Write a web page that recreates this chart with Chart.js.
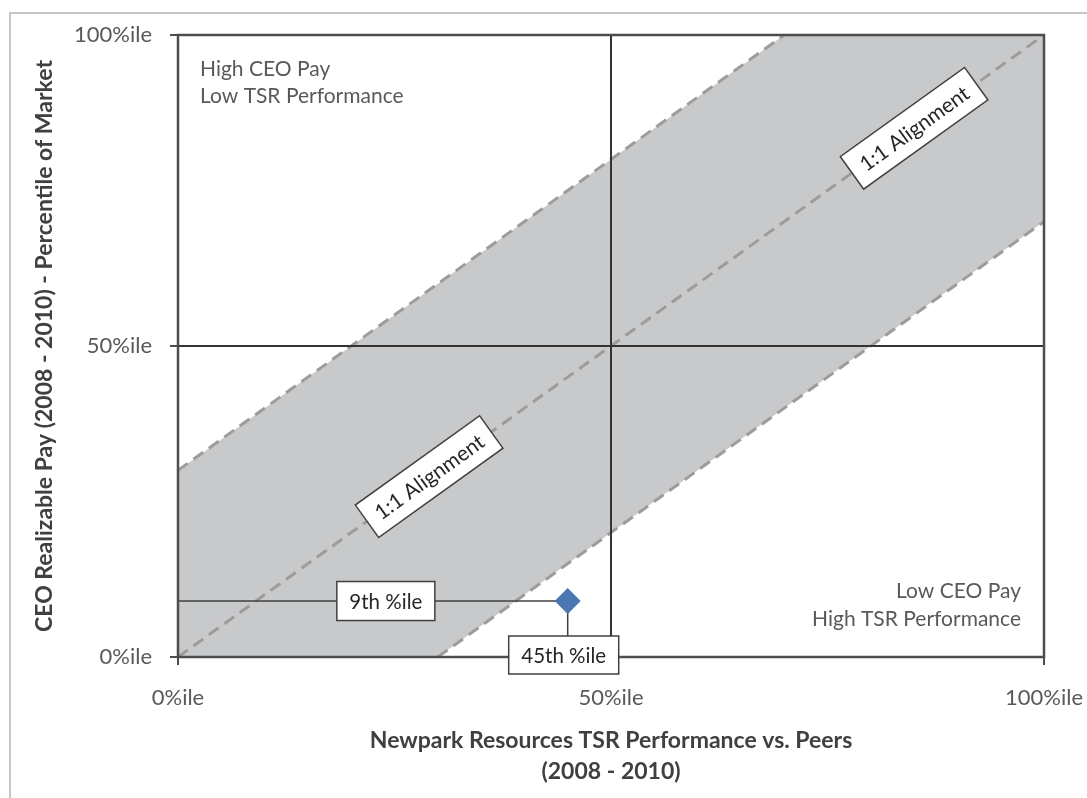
<!DOCTYPE html>
<html>
<head>
<meta charset="utf-8">
<title>CEO Pay vs TSR</title>
<script src="https://cdn.jsdelivr.net/npm/chart.js@4.4.1/dist/chart.umd.min.js"></script>
<style>
  html, body { margin: 0; padding: 0; background: #fff; overflow: hidden; }
  #frame { position: absolute; left: 9px; top: 12px; width: 1100px; height: 800px;
           border-left: 2px solid #c6c6c6; border-top: 2px solid #c6c6c6; }
  #chart { position: absolute; left: 0; top: 0; }
</style>
</head>
<body>
<div id="frame"></div>
<canvas id="chart" width="1087" height="798"></canvas>
<script>
// percentile axes, both 0..100
var tickValues = [0, 50, 100];
var tickSuffix = '%ile';

// shaded alignment band (+/- 30 percentile points around 1:1)
var bandTopX = [0, 70, 100];
var bandTopY = [30, 100, 100];
var bandBottomX = [0, 30, 100];
var bandBottomY = [0, 0, 70];

// dashed edges of the band and the 1:1 line
var upperEdgeX = [0, 70];
var upperEdgeY = [30, 100];
var lowerEdgeX = [30, 100];
var lowerEdgeY = [0, 70];
var diagonalX = [0, 100];
var diagonalY = [0, 100];

// median split lines
var medianVX = [50, 50];
var medianVY = [0, 100];
var medianHX = [0, 100];
var medianHY = [50, 50];

// company position
var tsrPercentile = 45;
var payPercentile = 9;

// where the "1:1 Alignment" tags sit on the diagonal
var alignTagAt = [29, 85];
var alignTagText = '1:1 Alignment';

var topLeftText = ['High CEO Pay', 'Low TSR Performance'];
var bottomRightText = ['Low CEO Pay', 'High TSR Performance'];

function pts(xs, ys) {
  return xs.map(function (x, i) { return { x: x, y: ys[i] }; });
}

function tag(ctx, cx, cy, w, h, text) {
  ctx.fillStyle = '#ffffff';
  ctx.fillRect(cx - w / 2, cy - h / 2, w, h);
  ctx.strokeStyle = '#404040';
  ctx.lineWidth = 1.5;
  ctx.strokeRect(cx - w / 2, cy - h / 2, w, h);
  ctx.fillStyle = '#262626';
  ctx.textAlign = 'center';
  ctx.textBaseline = 'middle';
  ctx.fillText(text, cx, cy + 1);
}

var overlay = {
  id: 'overlay',
  afterDatasetsDraw: function (chart) {
    var ctx = chart.ctx, a = chart.chartArea;
    var xs = chart.scales.x, ys = chart.scales.y;
    ctx.save();

    // plot frame
    ctx.strokeStyle = '#4d4d4d';
    ctx.lineWidth = 2.5;
    ctx.strokeRect(a.left, a.top, a.right - a.left, a.bottom - a.top);

    // quadrant captions
    ctx.fillStyle = '#595959';
    ctx.font = '21px Lato';
    ctx.textBaseline = 'alphabetic';
    ctx.textAlign = 'left';
    ctx.fillText(topLeftText[0], a.left + 22, a.top + 41);
    ctx.fillText(topLeftText[1], a.left + 22, a.top + 68);
    ctx.textAlign = 'right';
    ctx.fillText(bottomRightText[0], a.right - 23, a.bottom - 59);
    ctx.fillText(bottomRightText[1], a.right - 23, a.bottom - 31);

    // rotated 1:1 tags
    var ang = Math.atan2(ys.getPixelForValue(100) - ys.getPixelForValue(0),
                         xs.getPixelForValue(100) - xs.getPixelForValue(0));
    ctx.font = '21px Lato';
    alignTagAt.forEach(function (v) {
      ctx.save();
      ctx.translate(xs.getPixelForValue(v), ys.getPixelForValue(v));
      ctx.rotate(ang);
      tag(ctx, 0, 0, 153, 40, alignTagText);
      ctx.restore();
    });

    // value call-outs
    ctx.font = '20.5px Lato';
    tag(ctx, xs.getPixelForValue(24), ys.getPixelForValue(payPercentile), 98, 39,
        payPercentile + 'th %ile');
    tag(ctx, xs.getPixelForValue(tsrPercentile) - 4, ys.getPixelForValue(0) - 2, 110, 38,
        tsrPercentile + 'th %ile');

    ctx.restore();
  }
};

var dashed = [12, 7];
var tickFont = { family: 'Lato', size: 22 };

function fixedTicks(s) {
  s.ticks = tickValues.map(function (v) { return { value: v }; });
}

new Chart(document.getElementById('chart'), {
  type: 'line',
  data: {
    datasets: [
      { label: 'Company', data: [{ x: tsrPercentile, y: payPercentile }], showLine: false,
        pointStyle: 'rectRot', pointRadius: 13, pointBackgroundColor: '#4a76b2',
        pointBorderColor: '#4a76b2', pointBorderWidth: 0, order: 0 },
      { label: 'pay leader', data: pts([0, tsrPercentile], [payPercentile, payPercentile]),
        borderColor: '#404040', borderWidth: 1.5, pointRadius: 0, order: 1 },
      { label: 'tsr leader', data: pts([tsrPercentile, tsrPercentile], [payPercentile, 0]),
        borderColor: '#404040', borderWidth: 1.5, pointRadius: 0, order: 1 },
      { label: 'median v', data: pts(medianVX, medianVY), borderColor: '#333333',
        borderWidth: 2, pointRadius: 0, order: 2 },
      { label: 'median h', data: pts(medianHX, medianHY), borderColor: '#333333',
        borderWidth: 2, pointRadius: 0, order: 2 },
      { label: 'upper edge', data: pts(upperEdgeX, upperEdgeY), borderColor: '#9c9c9c',
        borderWidth: 3, borderDash: dashed, pointRadius: 0, order: 3 },
      { label: '1:1', data: pts(diagonalX, diagonalY), borderColor: '#9c9c9c',
        borderWidth: 3, borderDash: dashed, pointRadius: 0, order: 3 },
      { label: 'lower edge', data: pts(lowerEdgeX, lowerEdgeY), borderColor: '#9c9c9c',
        borderWidth: 3, borderDash: dashed, pointRadius: 0, order: 3 },
      { label: 'band top', data: pts(bandTopX, bandTopY), borderWidth: 0, pointRadius: 0,
        backgroundColor: '#c8c9cb', fill: '+1', order: 5 },
      { label: 'band bottom', data: pts(bandBottomX, bandBottomY), borderWidth: 0,
        pointRadius: 0, fill: false, order: 5 }
    ]
  },
  options: {
    responsive: false,
    animation: false,
    events: [],
    layout: { padding: { top: 35, right: 43, left: 0, bottom: 0 } },
    plugins: { legend: { display: false }, tooltip: { enabled: false } },
    scales: {
      x: {
        type: 'linear', min: 0, max: 100,
        afterFit: function (s) { s.height = 141; s.paddingLeft = 0; s.paddingRight = 0; },
        afterBuildTicks: fixedTicks,
        ticks: { font: tickFont, color: '#595959', padding: 20, maxRotation: 0,
                 callback: function (v) { return v + tickSuffix; } },
        grid: { drawOnChartArea: false, drawTicks: true, tickLength: 8,
                color: '#4d4d4d', lineWidth: 2 },
        border: { display: true, color: '#4d4d4d', width: 2 },
        title: { display: true,
                 text: ['Newpark Resources TSR Performance vs. Peers', '(2008 - 2010)'],
                 font: { family: 'Lato', size: 23, weight: 'bold', lineHeight: 1.35 },
                 color: '#404040', padding: { top: 0, bottom: 11 } }
      },
      y: {
        type: 'linear', min: 0, max: 100,
        afterFit: function (s) { s.width = 178; s.paddingTop = 0; s.paddingBottom = 0; },
        afterBuildTicks: fixedTicks,
        ticks: { font: tickFont, color: '#595959', padding: 18,
                 callback: function (v) { return v + tickSuffix; } },
        grid: { drawOnChartArea: false, drawTicks: true, tickLength: 8,
                color: '#4d4d4d', lineWidth: 2 },
        border: { display: true, color: '#4d4d4d', width: 2 },
        title: { display: true,
                 text: 'CEO Realizable Pay (2008 - 2010) - Percentile of Market',
                 font: { family: 'Lato', size: 23, weight: 'bold', lineHeight: 1.2 },
                 color: '#404040', padding: { top: 31, bottom: 0 } }
      }
    }
  },
  plugins: [overlay]
});
</script>
</body>
</html>
